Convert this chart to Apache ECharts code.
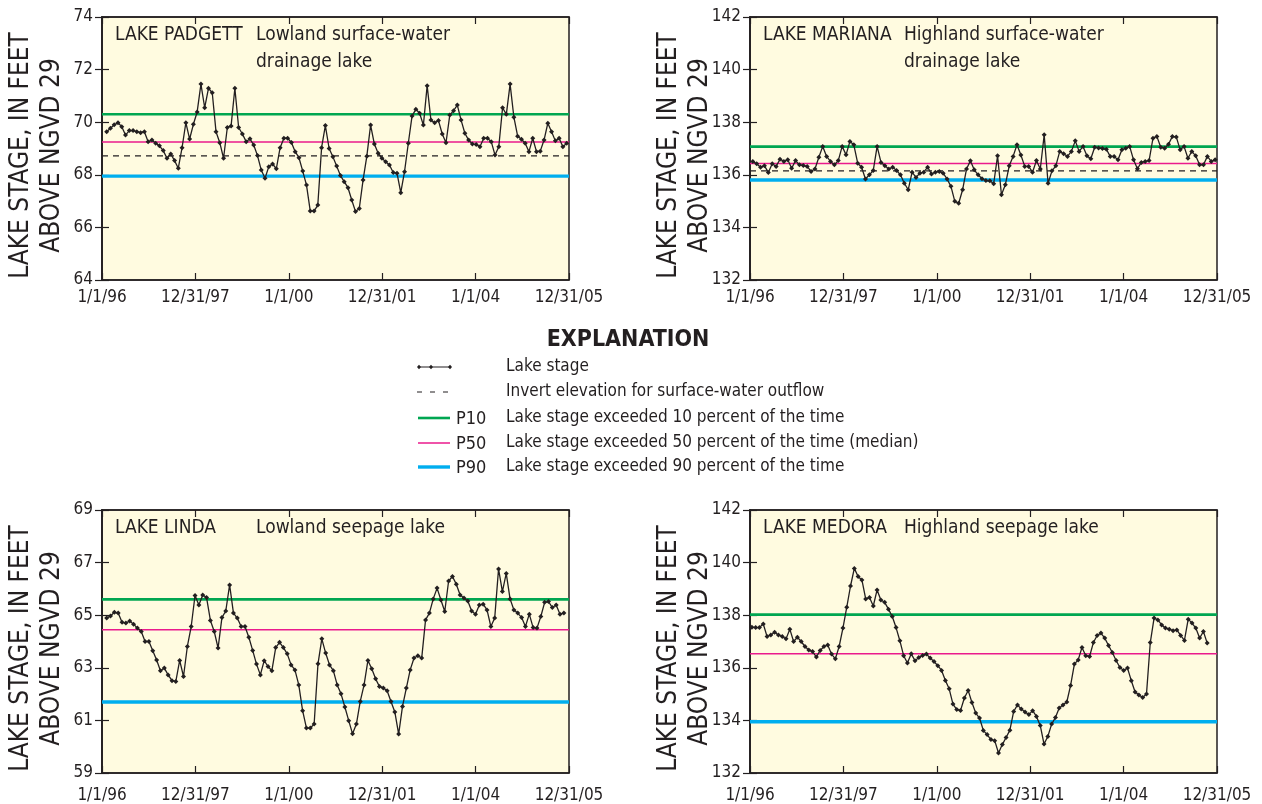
<!DOCTYPE html>
<html>
<head>
<meta charset="utf-8">
<title>Lake stage</title>
<script src="https://cdn.jsdelivr.net/npm/echarts@6/dist/echarts.min.js"></script>
<style>
  html, body { margin: 0; padding: 0; background: #fff; }
  #chart { width: 1262px; height: 804px; }
</style>
</head>
<body>
<div id="chart"></div>
<script>
// tick labels on the time axis (years since 1/1/96)
const xLabels = ['1/1/96', '12/31/97', '1/1/00', '12/31/01', '1/1/04', '12/31/05'];

// monthly lake stage, feet above NGVD 29
const padgettStage = [
  69.64, 69.77, 69.9, 69.98, 69.83, 69.51, 69.68, 69.68, 69.64, 69.6, 69.64, 69.26, 69.32, 69.2, 69.1, 68.92,
  68.63, 68.79, 68.54, 68.25, 69.03, 69.98, 69.36, 69.92, 70.39, 71.45, 70.55, 71.29, 71.12, 69.64, 69.22, 68.63,
  69.8, 69.86, 71.29, 69.8, 69.55, 69.26, 69.37, 69.13, 68.73, 68.18, 67.87, 68.31, 68.41, 68.23, 69.03, 69.39,
  69.39, 69.23, 68.88, 68.65, 68.14, 67.61, 66.62, 66.62, 66.85, 69.03, 69.87, 69.0, 68.69, 68.33, 67.97, 67.74,
  67.51, 67.04, 66.6, 66.72, 67.8, 68.71, 69.89, 69.17, 68.82, 68.63, 68.5, 68.37, 68.09, 68.06, 67.32, 68.12,
  69.2, 70.24, 70.49, 70.34, 69.89, 71.39, 70.08, 69.98, 70.06, 69.55, 69.22, 70.27, 70.44, 70.65, 70.08, 69.58,
  69.32, 69.17, 69.15, 69.07, 69.39, 69.39, 69.26, 68.75, 69.07, 70.55, 70.3, 71.45, 70.19, 69.47, 69.35, 69.2,
  68.88, 69.39, 68.88, 68.9, 69.32, 69.96, 69.64, 69.29, 69.39, 69.07, 69.2
];
const marianaStage = [
  136.51, 136.42, 136.29, 136.34, 136.09, 136.42, 136.32, 136.59, 136.51, 136.57, 136.25, 136.54, 136.38, 136.35, 136.32, 136.13,
  136.22, 136.67, 137.08, 136.7, 136.51, 136.38, 136.54, 137.08, 136.76, 137.27, 137.14, 136.44, 136.29, 135.84, 136.0, 136.16,
  137.08, 136.47, 136.34, 136.22, 136.29, 136.16, 136.0, 135.68, 135.43, 136.1, 135.9, 136.06, 136.1, 136.29, 136.03, 136.1,
  136.13, 136.06, 135.84, 135.56, 134.99, 134.92, 135.43, 136.22, 136.53, 136.19, 136.0, 135.85, 135.78, 135.77, 135.66, 136.72,
  135.24, 135.62, 136.34, 136.7, 137.14, 136.75, 136.32, 136.32, 136.1, 136.54, 136.22, 137.52, 135.68, 136.15, 136.34, 136.89,
  136.8, 136.7, 136.89, 137.29, 136.89, 137.08, 136.72, 136.61, 137.05, 137.02, 137.0, 136.97, 136.7, 136.7, 136.57, 136.95,
  137.01, 137.08, 136.57, 136.23, 136.47, 136.51, 136.54, 137.39, 137.46, 137.05, 137.01, 137.16, 137.46, 137.44, 136.95, 137.08,
  136.63, 136.89, 136.72, 136.38, 136.38, 136.7, 136.51, 136.57
];
const lindaStage = [
  64.89, 64.97, 65.11, 65.08, 64.73, 64.7, 64.78, 64.66, 64.51, 64.38, 64.0, 64.0, 63.65, 63.3, 62.89, 62.99,
  62.73, 62.51, 62.48, 63.28, 62.67, 63.81, 64.57, 65.75, 65.39, 65.77, 65.67, 64.8, 64.38, 63.75, 64.91, 65.16,
  66.15, 65.08, 64.89, 64.57, 64.57, 64.16, 63.66, 63.14, 62.73, 63.27, 63.05, 62.89, 63.77, 63.97, 63.77, 63.53,
  63.11, 62.92, 62.35, 61.37, 60.71, 60.71, 60.86, 63.15, 64.1, 63.56, 63.11, 62.89, 62.35, 62.01, 61.51, 60.99,
  60.49, 60.86, 61.72, 62.35, 63.28, 62.96, 62.58, 62.29, 62.23, 62.13, 61.72, 61.32, 60.48, 61.53, 62.23, 62.92,
  63.37, 63.46, 63.37, 64.82, 65.08, 65.62, 66.03, 65.58, 65.14, 66.3, 66.47, 66.18, 65.77, 65.65, 65.54, 65.16,
  65.04, 65.39, 65.42, 65.2, 64.57, 64.89, 66.76, 65.9, 66.59, 65.62, 65.2, 65.08, 64.91, 64.57, 65.04, 64.53,
  64.51, 64.95, 65.49, 65.52, 65.29, 65.39, 65.04, 65.08
];
const medoraStage = [
  137.54, 137.53, 137.53, 137.67, 137.19, 137.25, 137.35, 137.25, 137.19, 137.1, 137.47, 137.0, 137.16, 137.0, 136.81, 136.68,
  136.62, 136.41, 136.66, 136.81, 136.87, 136.52, 136.34, 136.81, 137.51, 138.3, 139.11, 139.78, 139.47, 139.34, 138.62, 138.67,
  138.35, 138.96, 138.58, 138.49, 138.23, 137.95, 137.53, 137.03, 136.46, 136.18, 136.53, 136.27, 136.39, 136.47, 136.52, 136.37,
  136.24, 136.08, 135.9, 135.52, 135.2, 134.62, 134.41, 134.38, 134.85, 135.14, 134.68, 134.28, 134.09, 133.62, 133.46, 133.27,
  133.23, 132.76, 133.08, 133.35, 133.63, 134.34, 134.59, 134.43, 134.32, 134.22, 134.37, 134.15, 133.81, 133.1, 133.39, 133.86,
  134.11, 134.47, 134.59, 134.7, 135.33, 136.14, 136.3, 136.77, 136.46, 136.43, 136.96, 137.23, 137.32, 137.13, 136.85, 136.58,
  136.28, 136.01, 135.9, 135.99, 135.51, 135.08, 134.97, 134.87, 135.0, 136.96, 137.89, 137.82, 137.63, 137.51, 137.47, 137.41,
  137.44, 137.23, 137.04, 137.85, 137.7, 137.51, 137.13, 137.38, 136.94
];

// first and last reading, years after 1/1/96
const padgettSpan = [0.10, 9.95];
const marianaSpan = [0.06, 9.96];
const lindaSpan = [0.10, 9.89];
const medoraSpan = [0.04, 9.79];

// P10, P50, P90 and invert elevation (null = seepage lake, no outflow)
const padgettLevels = [70.3, 69.25, 67.95, 68.72];
const marianaLevels = [137.07, 136.43, 135.8, 136.15];
const lindaLevels = [65.6, 64.45, 61.7, null];
const medoraLevels = [138.02, 136.53, 133.95, null];

// y axis ranges [min, max, interval]
const padgettAxis = [64, 74, 2];
const marianaAxis = [132, 142, 2];
const lindaAxis = [59, 69, 2];
const medoraAxis = [132, 142, 2];

const FONT = '"Liberation Sans Narrow", "DejaVu Sans Condensed", "Roboto Condensed", "Liberation Sans", sans-serif';
const INK = '#231f20';
const C10 = '#00a651', C50 = '#ea1a8d', C90 = '#00aeef';

const panels = [
  { name: 'LAKE PADGETT', kind: ['Lowland surface-water', 'drainage lake'], stage: padgettStage, span: padgettSpan,
    levels: padgettLevels, axis: padgettAxis, left: 102, top: 17, labelGap: 9 },
  { name: 'LAKE MARIANA', kind: ['Highland surface-water', 'drainage lake'], stage: marianaStage, span: marianaSpan,
    levels: marianaLevels, axis: marianaAxis, left: 750, top: 17, labelGap: 9 },
  { name: 'LAKE LINDA', kind: ['Lowland seepage lake'], stage: lindaStage, span: lindaSpan,
    levels: lindaLevels, axis: lindaAxis, left: 102, top: 510, labelGap: 14 },
  { name: 'LAKE MEDORA', kind: ['Highland seepage lake'], stage: medoraStage, span: medoraSpan,
    levels: medoraLevels, axis: medoraAxis, left: 750, top: 510, labelGap: 14 }
];
const W = 467, H = 263;

const grids = [], xAxes = [], yAxes = [], series = [], graphics = [];

panels.forEach((p, i) => {
  grids.push({
    left: p.left, top: p.top, width: W, height: H, show: true,
    backgroundColor: '#fffbe0', borderColor: INK, borderWidth: 1.5
  });
  const tick = { inside: true, length: 7, lineStyle: { color: INK, width: 1.2 } };
  const line = { show: true, lineStyle: { color: INK, width: 1.5 } };
  xAxes.push({
    gridIndex: i, type: 'value', min: 0, max: 10, interval: 2, position: 'bottom',
    axisLine: line, axisTick: tick, splitLine: { show: false },
    axisLabel: { formatter: v => xLabels[v / 2], color: INK, fontFamily: FONT, fontSize: 17, margin: p.labelGap }
  });
  xAxes.push({
    gridIndex: i, type: 'value', min: 0, max: 10, interval: 2, position: 'top',
    axisLine: line, axisTick: tick, splitLine: { show: false }, axisLabel: { show: false }
  });
  yAxes.push({
    gridIndex: i, type: 'value', min: p.axis[0], max: p.axis[1], interval: p.axis[2], position: 'left',
    axisLine: line, axisTick: tick, splitLine: { show: false },
    axisLabel: { color: INK, fontFamily: FONT, fontSize: 17, margin: 9 }
  });
  yAxes.push({
    gridIndex: i, type: 'value', min: p.axis[0], max: p.axis[1], interval: p.axis[2], position: 'right',
    axisLine: line, axisTick: tick, splitLine: { show: false }, axisLabel: { show: false }
  });

  const xi = 2 * i, yi = 2 * i;
  const level = (v, color, width, type, z) => ({
    type: 'line', xAxisIndex: xi, yAxisIndex: yi, data: [[0, v], [10, v]],
    symbol: 'none', silent: true, z: z,
    lineStyle: { color: color, width: width, type: type }
  });
  series.push(level(p.levels[0], C10, 2.6, 'solid', 2));
  series.push(level(p.levels[1], C50, 1.5, 'solid', 2));
  series.push(level(p.levels[2], C90, 3.4, 'solid', 2));
  if (p.levels[3] != null) series.push(level(p.levels[3], INK, 1.1, [6, 5], 3));

  const n = p.stage.length;
  const step = (p.span[1] - p.span[0]) / (n - 1);
  series.push({
    type: 'line', xAxisIndex: xi, yAxisIndex: yi, z: 5,
    data: p.stage.map((v, k) => [p.span[0] + k * step, v]),
    symbol: 'diamond', symbolSize: 5, showSymbol: true,
    itemStyle: { color: INK }, lineStyle: { color: INK, width: 1.3 }
  });

  // panel captions
  const ty = p.top + 18;
  graphics.push({ type: 'text', x: p.left + 13, y: ty, z: 10,
    style: { text: p.name, font: '19px ' + FONT, fill: INK, textAlign: 'left', textVerticalAlign: 'middle' } });
  p.kind.forEach((t, k) => graphics.push({ type: 'text', x: p.left + 154, y: ty + k * 27, z: 10,
    style: { text: t, font: '19px ' + FONT, fill: INK, textAlign: 'left', textVerticalAlign: 'middle' } }));

  // y axis title
  graphics.push({ type: 'text', x: p.left - 65, y: p.top + H / 2 + 7, rotation: Math.PI / 2, z: 10,
    style: { text: 'LAKE STAGE, IN FEET\nABOVE NGVD 29', font: '26px ' + FONT, fill: INK,
      textAlign: 'center', textVerticalAlign: 'middle', lineHeight: 31 } });
});

// explanation block
const LX = 418, LX2 = 450, TX = 506;
graphics.push({ type: 'text', x: 628, y: 340,
  style: { text: 'EXPLANATION', font: 'bold 23px ' + FONT, fill: INK, textAlign: 'center', textVerticalAlign: 'middle' } });
const rows = [
  { y: 367, text: 'Lake stage' },
  { y: 392, text: 'Invert elevation for surface-water outflow' },
  { y: 418, text: 'Lake stage exceeded 10 percent of the time', tag: 'P10', color: C10, w: 2.6 },
  { y: 443, text: 'Lake stage exceeded 50 percent of the time (median)', tag: 'P50', color: C50, w: 1.5 },
  { y: 467, text: 'Lake stage exceeded 90 percent of the time', tag: 'P90', color: C90, w: 3.4 }
];
rows.forEach(r => {
  graphics.push({ type: 'text', x: TX, y: r.y,
    style: { text: r.text, font: '17px ' + FONT, fill: INK, textAlign: 'left', textVerticalAlign: 'middle' } });
  if (r.tag) {
    graphics.push({ type: 'line', shape: { x1: LX, y1: r.y, x2: LX2, y2: r.y },
      style: { stroke: r.color, lineWidth: r.w } });
    graphics.push({ type: 'text', x: 456, y: r.y + 1,
      style: { text: r.tag, font: '18px ' + FONT, fill: INK, textAlign: 'left', textVerticalAlign: 'middle' } });
  }
});
graphics.push({ type: 'line', shape: { x1: LX, y1: 367, x2: LX2 + 1, y2: 367 }, style: { stroke: INK, lineWidth: 1.2 } });
[LX + 1, LX + 13, LX2].forEach(cx => graphics.push({ type: 'polygon',
  shape: { points: [[cx, 364.8], [cx + 2, 367], [cx, 369.2], [cx - 2, 367]] }, style: { fill: INK } }));
graphics.push({ type: 'line', shape: { x1: LX - 1, y1: 392, x2: LX2 + 1, y2: 392 },
  style: { stroke: INK, lineWidth: 1.1, lineDash: [5, 8] } });

const chart = echarts.init(document.getElementById('chart'), null, { renderer: 'canvas' });
chart.setOption({
  animation: false,
  backgroundColor: '#ffffff',
  grid: grids,
  xAxis: xAxes,
  yAxis: yAxes,
  series: series,
  graphic: graphics
});
</script>
</body>
</html>
